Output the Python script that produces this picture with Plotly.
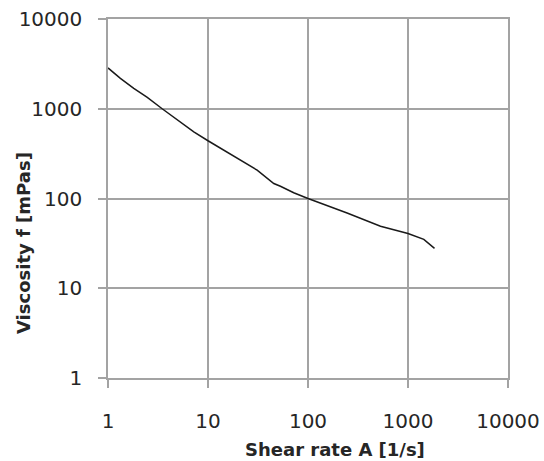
import plotly.graph_objects as go

# Flow curve: viscosity vs shear rate (log-log)
shear_rate = [1.0, 1.33, 1.81, 2.47, 3.48, 4.92, 7.21, 10, 14.4, 21.1, 31, 45.5, 53, 72, 100,
              246, 531, 1000, 1439, 1841]
viscosity = [2850, 2183, 1687, 1340, 1000, 748, 554, 440, 347, 268, 207, 147, 137, 116, 100,
             69, 49, 40.8, 35, 27.8]

tick_vals = [1, 10, 100, 1000, 10000]
tick_text = ["1", "10", "100", "1000", "10000"]

x_title = "Shear rate A [1/s]"
y_title = "Viscosity f [mPas]"

grid_color = "#a3a3a3"
text_color = "#262626"
font_family = "DejaVu Sans"

fig = go.Figure()
fig.add_trace(go.Scatter(
    x=shear_rate, y=viscosity, mode="lines",
    line=dict(color="#1a1a1a", width=1.5),
    showlegend=False,
))

axis_common = dict(
    type="log", range=[0, 4],
    tickvals=tick_vals, ticktext=tick_text,
    showgrid=True, gridcolor=grid_color, gridwidth=1.5,
    showline=True, linecolor=grid_color, linewidth=1.5,
    ticks="outside", ticklen=8, tickcolor=grid_color, tickwidth=1.5,
    tickfont=dict(family=font_family, size=20, color=text_color),
    zeroline=False, mirror=True, automargin=False,
)

fig.update_xaxes(**axis_common, ticklabelstandoff=16)
fig.update_yaxes(**axis_common, ticklabelstandoff=12)

title_font = dict(family=font_family, size=18, color=text_color)
fig.add_annotation(
    text="<b>" + x_title + "</b>", xref="paper", yref="paper",
    x=0.567, y=0, yshift=-71, xanchor="center", yanchor="middle",
    showarrow=False, font=title_font,
)
fig.add_annotation(
    text="<b>" + y_title + "</b>", xref="paper", yref="paper",
    x=0, y=0.376, xshift=-85, xanchor="center", yanchor="middle",
    textangle=-90, showarrow=False, font=title_font,
)

fig.update_layout(
    width=544, height=461,
    margin=dict(l=108, r=36, t=19, b=83),
    paper_bgcolor="white", plot_bgcolor="white",
)

fig.write_html("out.html")
